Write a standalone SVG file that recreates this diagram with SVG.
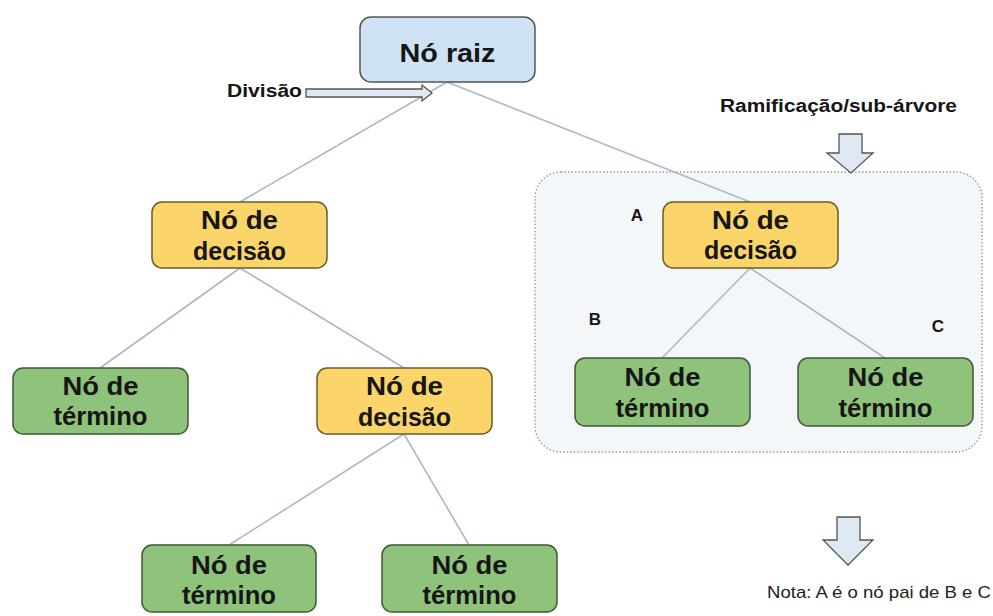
<svg xmlns="http://www.w3.org/2000/svg" width="993" height="616" viewBox="0 0 993 616">
<style>
  .t { font-family: "Liberation Sans", Arial, sans-serif; font-weight: bold; fill: #161616; text-anchor: middle; }
  .nt { font-size: 25px; }
  .lbl { font-size: 17px; }
  .note { font-family: "Liberation Sans", Arial, sans-serif; font-size: 17px; fill: #222; }
  .root { fill: #cfe2f3; stroke: #555; stroke-width: 1.5; }
  .dec { fill: #fcd56a; stroke: #6b5a2a; stroke-width: 1.5; }
  .leaf { fill: #8fc27a; stroke: #3f5a35; stroke-width: 1.5; }
  .conn line { stroke: #a9b9c9; stroke-width: 1.6; }
  .barrow { fill: #dfe9f4; stroke: #555; stroke-width: 1.3; stroke-linejoin: miter; }
</style>
<rect width="993" height="616" fill="#ffffff"/>

<g id="subtree-box">
  <rect x="535" y="172" width="447" height="280" rx="26" fill="#f4f7fa" stroke="#9a9a9a" stroke-width="1.4" stroke-dasharray="1.5 2"/>
</g>

<g id="connectors" class="conn">
  <line x1="447" y1="82" x2="240" y2="202"/>
  <line x1="447" y1="82" x2="750" y2="202"/>
  <line x1="240" y1="268" x2="100" y2="368"/>
  <line x1="240" y1="268" x2="404" y2="368"/>
  <line x1="404" y1="434" x2="229" y2="545"/>
  <line x1="404" y1="434" x2="469" y2="545"/>
  <line x1="750" y1="268" x2="662" y2="358"/>
  <line x1="750" y1="268" x2="885" y2="358"/>
</g>

<g id="root">
  <rect class="root" x="360" y="17" width="175" height="65" rx="11"/>
  <text class="t" x="447.5" y="62" font-size="26" textLength="96" lengthAdjust="spacingAndGlyphs">Nó raiz</text>
</g>

<g id="decision-left">
  <rect class="dec" x="152" y="202" width="175" height="66" rx="10"/>
  <text class="t nt" x="239.5" y="229" textLength="77" lengthAdjust="spacingAndGlyphs">Nó de</text>
  <text class="t nt" x="239.5" y="260" textLength="93" lengthAdjust="spacingAndGlyphs">decisão</text>
</g>

<g id="leaf-left">
  <rect class="leaf" x="13" y="368" width="175" height="66" rx="10"/>
  <text class="t nt" x="100.5" y="395" textLength="76" lengthAdjust="spacingAndGlyphs">Nó de</text>
  <text class="t nt" x="100.5" y="425" textLength="94" lengthAdjust="spacingAndGlyphs">término</text>
</g>

<g id="decision-mid">
  <rect class="dec" x="317" y="368" width="175" height="66" rx="10"/>
  <text class="t nt" x="404.5" y="395" textLength="77" lengthAdjust="spacingAndGlyphs">Nó de</text>
  <text class="t nt" x="404.5" y="426" textLength="93" lengthAdjust="spacingAndGlyphs">decisão</text>
</g>

<g id="leaf-bottom-1">
  <rect class="leaf" x="142" y="545" width="174" height="67" rx="10"/>
  <text class="t nt" x="229" y="574" textLength="76" lengthAdjust="spacingAndGlyphs">Nó de</text>
  <text class="t nt" x="229" y="604" textLength="94" lengthAdjust="spacingAndGlyphs">término</text>
</g>

<g id="leaf-bottom-2">
  <rect class="leaf" x="382" y="545" width="175" height="67" rx="10"/>
  <text class="t nt" x="469.5" y="574" textLength="76" lengthAdjust="spacingAndGlyphs">Nó de</text>
  <text class="t nt" x="469.5" y="604" textLength="94" lengthAdjust="spacingAndGlyphs">término</text>
</g>

<g id="decision-A">
  <rect class="dec" x="663" y="202" width="175" height="66" rx="10"/>
  <text class="t nt" x="750.5" y="229" textLength="77" lengthAdjust="spacingAndGlyphs">Nó de</text>
  <text class="t nt" x="750.5" y="259" textLength="93" lengthAdjust="spacingAndGlyphs">decisão</text>
</g>

<g id="leaf-B">
  <rect class="leaf" x="575" y="358" width="175" height="68" rx="10"/>
  <text class="t nt" x="662.5" y="386" textLength="76" lengthAdjust="spacingAndGlyphs">Nó de</text>
  <text class="t nt" x="662.5" y="417" textLength="94" lengthAdjust="spacingAndGlyphs">término</text>
</g>

<g id="leaf-C">
  <rect class="leaf" x="798" y="358" width="175" height="68" rx="10"/>
  <text class="t nt" x="885.5" y="386" textLength="76" lengthAdjust="spacingAndGlyphs">Nó de</text>
  <text class="t nt" x="885.5" y="417" textLength="94" lengthAdjust="spacingAndGlyphs">término</text>
</g>

<g id="labels">
  <text class="t lbl" x="637" y="221">A</text>
  <text class="t lbl" x="595" y="325">B</text>
  <text class="t lbl" x="938" y="332">C</text>
  <text class="t" x="264.5" y="97" font-size="18" textLength="75" lengthAdjust="spacingAndGlyphs">Divisão</text>
  <text class="t" x="838.5" y="112" font-size="18" textLength="237" lengthAdjust="spacingAndGlyphs">Ramificação/sub-árvore</text>
  <text class="note" x="767" y="598" textLength="224" lengthAdjust="spacingAndGlyphs">Nota: A é o nó pai de B e C</text>
</g>

<g id="arrows">
  <path class="barrow" d="M306,89 H422 V85 L432,93 L422,101 V97 H306 Z" fill="#e6ebf0"/>
  <path class="barrow" d="M839,134 H862 V153 H873 L851,173 L827,153 H839 Z"/>
  <path class="barrow" d="M837,517 H860 V540 H873 L848,565 L823,540 H837 Z"/>
</g>
</svg>
